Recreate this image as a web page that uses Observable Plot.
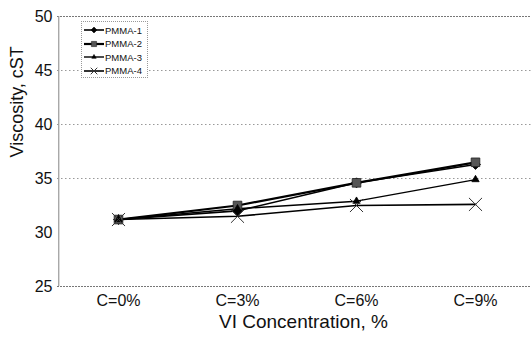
<!DOCTYPE html>
<html>
<head>
<meta charset="utf-8">
<script src="https://cdn.jsdelivr.net/npm/d3@7"></script>
<script src="https://cdn.jsdelivr.net/npm/@observablehq/plot@0.6"></script>
<style>
  html, body { margin: 0; padding: 0; background: #fff; overflow: hidden; }
  #wrap { position: relative; width: 531px; height: 337px; font-family: "Liberation Sans", Arial, sans-serif; }
  #legend { position: absolute; left: 81px; top: 21px; width: 65px; height: 55px; border: 1px dotted #999; background: #fff; font-size: 9.5px; }
  #legend .row { position: absolute; left: 1px; height: 12px; display: flex; align-items: center; }
  #legend svg { display: block; }
</style>
</head>
<body>
<div id="wrap"></div>
<script>
const categories = ["C=0%", "C=3%", "C=6%", "C=9%"];
const seriesNames = ["PMMA-1", "PMMA-2", "PMMA-3", "PMMA-4"];
const pmma1 = [31.2, 32.0, 34.6, 36.3];
const pmma2 = [31.2, 32.5, 34.6, 36.5];
const pmma3 = [31.2, 32.2, 32.9, 34.9];
const pmma4 = [31.2, 31.5, 32.5, 32.6];
const yTicks = [25, 30, 35, 40, 45, 50];
const gridTicks = [35, 40, 45];

const seriesValues = [pmma1, pmma2, pmma3, pmma4];
const symbols = ["diamond2", "square2", "triangle2", "times"];
const symSizes = [4.5, 5.5, 3.5, 6];
const fills = ["#000", "#555", "#000", "none"];
const strokes = ["#000", "#222", "#000", "#333"];
const lineWidths = [1.6, 2.2, 1.4, 1.6];

const rows = [];
seriesNames.forEach((s, i) => categories.forEach((c, j) => rows.push({series: s, cat: c, v: seriesValues[i][j], k: i})));

const marks = [
  Plot.ruleY(gridTicks, {stroke: "#999", strokeDasharray: "1.5,2.5", strokeWidth: 1}),
  Plot.ruleY([50], {stroke: "#777", strokeDasharray: "2,1", strokeWidth: 1}),
  Plot.ruleY([25], {stroke: "#777", strokeDasharray: "2,1", strokeWidth: 1}),
  Plot.ruleX([categories[0]], {dx: -59.75, stroke: "#999", strokeWidth: 1.2}),
];
seriesNames.forEach((s, i) => {
  const d = rows.filter(r => r.k === i);
  marks.push(Plot.line(d, {x: "cat", y: "v", stroke: "#000", strokeWidth: lineWidths[i]}));
});
seriesNames.forEach((s, i) => {
  const d = rows.filter(r => r.k === i);
  marks.push(Plot.dot(d, {x: "cat", y: "v", symbol: () => symbols[i], r: symSizes[i], fill: fills[i], stroke: strokes[i], strokeWidth: i === 3 ? 1 : 0.8}));
});

const chart = Plot.plot({
  width: 531,
  height: 337,
  marginLeft: 57,
  marginRight: 0,
  marginTop: 16,
  marginBottom: 51,
  style: {fontFamily: "'Liberation Sans', Arial, sans-serif", background: "#fff", overflow: "visible"},
  x: {type: "point", domain: categories, range: [57, 535], padding: 0.5, label: null, axis: null},
  y: {domain: [25, 50], axis: null},
  marks: [
    ...marks,
    Plot.axisX({ticks: categories, tickSize: 0, tickPadding: 8, fontSize: 16, fill: "#111", label: null, style: {letterSpacing: "0.8px"}}),
    Plot.axisY({ticks: yTicks, tickSize: 0, tickPadding: 5, fontSize: 16, fill: "#111", label: null}),
    Plot.text(["VI Concentration, %"], {text: d => d, frameAnchor: "bottom", dx: 9, dy: 41, fontSize: 19, fill: "#111"}),
    Plot.text(["Viscosity, cST"], {text: d => d, frameAnchor: "left", dx: -40, dy: 6, rotate: -90, fontSize: 18, fill: "#111"})
  ]
});
chart.style.position = "absolute";
chart.style.left = "0";
chart.style.top = "0";
document.getElementById("wrap").appendChild(chart);

// legend
const leg = document.createElement("div");
leg.id = "legend";
const ns = "http://www.w3.org/2000/svg";
seriesNames.forEach((s, i) => {
  const row = document.createElement("div");
  row.className = "row";
  row.style.top = (8 + i * 13.6 - 6) + "px";
  const svg = document.createElementNS(ns, "svg");
  svg.setAttribute("width", 21);
  svg.setAttribute("height", 12);
  const line = document.createElementNS(ns, "line");
  line.setAttribute("x1", 1); line.setAttribute("x2", 21);
  line.setAttribute("y1", 6); line.setAttribute("y2", 6);
  line.setAttribute("stroke", "#000");
  line.setAttribute("stroke-width", lineWidths[i]);
  svg.appendChild(line);
  const p = document.createElementNS(ns, "path");
  const sym = [d3.symbolDiamond2, d3.symbolSquare2, d3.symbolTriangle2, d3.symbolTimes][i];
  const sizes = [22, 34, 14, 30];
  p.setAttribute("d", d3.symbol(sym, sizes[i])());
  p.setAttribute("transform", "translate(11,6)");
  p.setAttribute("fill", fills[i]);
  p.setAttribute("stroke", strokes[i]);
  p.setAttribute("stroke-width", i === 3 ? 1 : 0.6);
  svg.appendChild(p);
  row.appendChild(svg);
  const t = document.createElement("span");
  t.textContent = s;
  t.style.marginLeft = "1px";
  t.style.color = "#111";
  row.appendChild(t);
  leg.appendChild(row);
});
document.getElementById("wrap").appendChild(leg);
</script>
</body>
</html>
